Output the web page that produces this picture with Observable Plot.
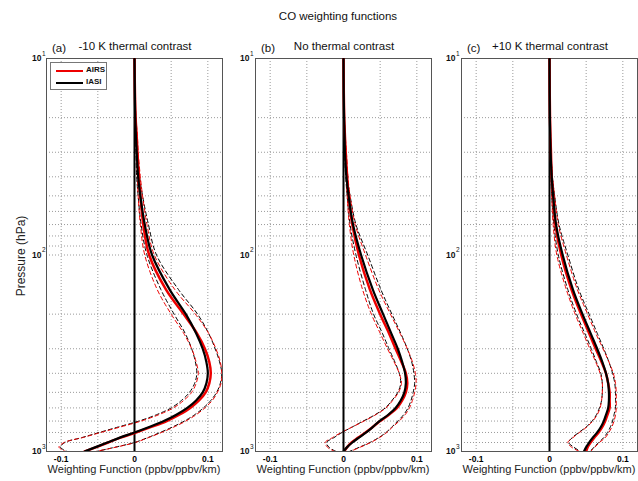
<!DOCTYPE html>
<html>
<head>
<meta charset="utf-8">
<script src="https://cdn.jsdelivr.net/npm/d3@7"></script>
<script src="https://cdn.jsdelivr.net/npm/@observablehq/plot@0.6"></script>
<style>
  body { margin: 0; background: #fff; font-family: "Liberation Sans", Arial, sans-serif; }
  #wrap { position: relative; width: 638px; height: 481px; overflow: hidden; }
  .abs { position: absolute; white-space: nowrap; color: #111; }
  svg { font-family: "Liberation Sans", Arial, sans-serif; }
</style>
</head>
<body>
<div id="wrap"></div>
<script>
// ---------- data ----------
const chartTitle = "CO weighting functions";
const panelLetters = ["(a)", "(b)", "(c)"];
const panelTitles = ["-10 K thermal contrast", "No thermal contrast", "+10 K thermal contrast"];
const xLabel = "Weighting Function (ppbv/ppbv/km)";
const yLabel = "Pressure (hPa)";
const seriesNames = ["AIRS", "IASI"];

const xTickValues = [-0.1, 0, 0.1];
const xTickLabels = ["-0.1", "0", "0.1"];
const xGridValues = [-0.1, -0.05, 0, 0.05, 0.1];
const yTickValues = [10, 100, 1000];
const yTickExponents = ["1", "2", "3"];
const yGridValues = [10,20,30,40,50,60,70,80,90,100,200,300,400,500,600,700,800,900,1000];

const pressure = [10,15,20,25,30,40,50,70,100,150,200,250,300,350,400,450,500,550,600,650,700,750,800,850,900,950,1000];

// panel (a): -10 K
const aIasi   = [0,0.0005,0.001,0.002,0.003,0.005,0.008,0.014,0.024,0.048,0.070,0.084,0.093,0.098,0.100,0.098,0.093,0.084,0.072,0.057,0.040,0.020,0.000,-0.020,-0.037,-0.053,-0.068];
const aAirs   = [0,0.0006,0.0015,0.003,0.004,0.006,0.008,0.012,0.020,0.043,0.067,0.085,0.096,0.102,0.104,0.102,0.097,0.088,0.076,0.061,0.044,0.023,0.002,-0.019,-0.036,-0.052,-0.068];
const aIasiLo = [0,0.0003,0.0007,0.0013,0.002,0.003,0.005,0.009,0.017,0.036,0.054,0.069,0.078,0.083,0.085,0.082,0.075,0.064,0.050,0.030,0.006,-0.022,-0.048,-0.072,-0.095,-0.101,-0.092];
const aIasiHi = [0,0.0007,0.0015,0.003,0.004,0.007,0.011,0.019,0.030,0.060,0.086,0.101,0.110,0.116,0.119,0.117,0.112,0.104,0.094,0.082,0.068,0.052,0.035,0.018,0.000,-0.026,-0.052];
const aAirsLo = [0,0.0004,0.001,0.002,0.003,0.004,0.005,0.008,0.014,0.031,0.050,0.067,0.078,0.084,0.087,0.084,0.078,0.067,0.053,0.033,0.009,-0.019,-0.046,-0.071,-0.096,-0.103,-0.094];
const aAirsHi = [0,0.0008,0.002,0.004,0.005,0.008,0.011,0.017,0.027,0.055,0.083,0.101,0.111,0.117,0.119,0.118,0.113,0.106,0.096,0.084,0.070,0.054,0.037,0.019,0.001,-0.025,-0.053];

// panel (b): no contrast
const bIasi   = [0,0.0003,0.0008,0.0015,0.002,0.004,0.007,0.013,0.024,0.040,0.054,0.065,0.074,0.080,0.084,0.085,0.083,0.078,0.071,0.061,0.049,0.040,0.031,0.021,0.012,0.005,0.000];
const bAirs   = [0,0.0004,0.001,0.002,0.003,0.005,0.007,0.012,0.021,0.036,0.050,0.062,0.071,0.079,0.085,0.087,0.085,0.080,0.073,0.062,0.050,0.040,0.030,0.020,0.011,0.005,0.001];
const bIasiLo = [0,0.0002,0.0005,0.001,0.0015,0.003,0.005,0.009,0.017,0.030,0.041,0.053,0.062,0.070,0.076,0.078,0.074,0.066,0.057,0.043,0.027,0.012,-0.002,-0.013,-0.023,-0.020,-0.010];
const bIasiHi = [0,0.0004,0.001,0.002,0.003,0.005,0.009,0.017,0.033,0.051,0.066,0.078,0.087,0.093,0.096,0.097,0.095,0.092,0.088,0.082,0.074,0.066,0.058,0.048,0.036,0.022,0.008];
const bAirsLo = [0,0.0003,0.0007,0.0013,0.002,0.004,0.005,0.008,0.014,0.026,0.038,0.050,0.060,0.069,0.076,0.079,0.075,0.067,0.058,0.044,0.028,0.012,-0.003,-0.015,-0.025,-0.022,-0.012];
const bAirsHi = [0,0.0005,0.0012,0.0025,0.004,0.006,0.009,0.016,0.030,0.048,0.064,0.077,0.087,0.094,0.098,0.099,0.097,0.094,0.090,0.084,0.076,0.067,0.059,0.049,0.037,0.023,0.009];

// panel (c): +10 K
const cIasi   = [0,0.0002,0.0005,0.001,0.0015,0.003,0.005,0.009,0.018,0.032,0.045,0.056,0.065,0.072,0.077,0.080,0.081,0.081,0.080,0.077,0.074,0.070,0.065,0.059,0.054,0.050,0.047];
const cAirs   = [0,0.0003,0.0007,0.0013,0.002,0.003,0.005,0.008,0.016,0.030,0.043,0.054,0.063,0.071,0.077,0.080,0.082,0.082,0.082,0.079,0.076,0.072,0.067,0.061,0.056,0.052,0.050];
const cIasiLo = [0,0.0001,0.0003,0.0006,0.001,0.002,0.003,0.006,0.012,0.025,0.037,0.048,0.057,0.064,0.070,0.072,0.072,0.071,0.068,0.064,0.058,0.050,0.040,0.031,0.026,0.033,0.042];
const cIasiHi = [0,0.0003,0.0007,0.0014,0.002,0.004,0.007,0.013,0.025,0.040,0.054,0.065,0.074,0.081,0.086,0.089,0.090,0.090,0.090,0.088,0.086,0.083,0.079,0.074,0.067,0.061,0.055];
const cAirsLo = [0,0.0001,0.0003,0.0006,0.001,0.002,0.003,0.005,0.010,0.023,0.035,0.046,0.055,0.063,0.069,0.072,0.072,0.071,0.069,0.065,0.059,0.051,0.041,0.032,0.025,0.030,0.041];
const cAirsHi = [0,0.0004,0.0009,0.0016,0.002,0.004,0.007,0.012,0.023,0.038,0.052,0.063,0.073,0.081,0.087,0.090,0.091,0.091,0.091,0.090,0.088,0.085,0.081,0.076,0.068,0.062,0.056];

// ---------- layout ----------
const RED = "#ee0000";
const panels = [
  {left: 0,   marginLeft: 46, width: 223, airs: aAirs, iasi: aIasi, airsLo: aAirsLo, airsHi: aAirsHi, iasiLo: aIasiLo, iasiHi: aIasiHi, tickDx: -5},
  {left: 222, marginLeft: 33, width: 210, airs: bAirs, iasi: bIasi, airsLo: bAirsLo, airsHi: bAirsHi, iasiLo: bIasiLo, iasiHi: bIasiHi, tickDx: -6},
  {left: 431, marginLeft: 30, width: 207, airs: cAirs, iasi: cIasi, airsLo: cAirsLo, airsHi: cAirsHi, iasiLo: cIasiLo, iasiHi: cIasiHi, tickDx: -6}
];

const wrap = document.getElementById("wrap");
function addText(txt, style) {
  const d = document.createElement("div");
  d.className = "abs";
  d.textContent = txt;
  Object.assign(d.style, style);
  wrap.appendChild(d);
  return d;
}

const toRows = (vals) => pressure.map((p, i) => ({p, v: vals[i]}));

panels.forEach((P, k) => {
  const lineOpts = {x: "v", y: "p", curve: "catmull-rom"};
  const plot = Plot.plot({
    width: P.width,
    height: 481,
    marginLeft: P.marginLeft,
    marginRight: 1,
    marginTop: 58,
    marginBottom: 30,
    style: {background: "transparent", overflow: "visible"},
    x: {domain: [-0.12, 0.12], label: null},
    y: {type: "log", domain: [10, 1000], reverse: true, label: null},
    marks: [
      Plot.gridX(xGridValues, {stroke: "#9a9a9a", strokeOpacity: 1, strokeDasharray: "1,2"}),
      Plot.gridY(yGridValues, {stroke: "#9a9a9a", strokeOpacity: 1, strokeDasharray: "1,2"}),
      Plot.frame({stroke: "#555", strokeWidth: 1}),
      Plot.axisX(xTickValues, {tickSize: 0, tickPadding: 4, fontSize: 8.5, fontWeight: "bold", tickFormat: (d, i) => xTickLabels[i], label: null}),
      Plot.axisY({ticks: [], label: null}),
      Plot.text(yTickValues, {y: d => d, frameAnchor: "left", text: () => "10", textAnchor: "end", dx: P.tickDx, fontSize: 8.5, fontWeight: "bold", fill: "#111"}),
      Plot.text(yTickValues, {y: d => d, frameAnchor: "left", text: (d, i) => yTickExponents[i], textAnchor: "start", dx: P.tickDx + 0.5, dy: -5, fontSize: 6.5, fill: "#111"}),
      // envelopes (mean ± spread)
      Plot.line(toRows(P.iasiLo), {...lineOpts, stroke: "#000", strokeWidth: 1, strokeDasharray: "4,3", clip: true}),
      Plot.line(toRows(P.iasiHi), {...lineOpts, stroke: "#000", strokeWidth: 1, strokeDasharray: "4,3", clip: true}),
      Plot.line(toRows(P.airsLo), {...lineOpts, stroke: RED, strokeWidth: 1, strokeDasharray: "4,3", strokeDashoffset: 3.5, clip: true}),
      Plot.line(toRows(P.airsHi), {...lineOpts, stroke: RED, strokeWidth: 1, strokeDasharray: "4,3", strokeDashoffset: 3.5, clip: true}),
      Plot.ruleX([0], {stroke: "#000", strokeWidth: 2}),
      Plot.line(toRows(P.airs), {...lineOpts, stroke: RED, strokeWidth: 2.5, clip: true}),
      Plot.line(toRows(P.iasi), {...lineOpts, stroke: "#000", strokeWidth: 2.2, clip: true})
    ]
  });
  plot.style.position = "absolute";
  plot.style.left = P.left + "px";
  plot.style.top = "0px";
  wrap.appendChild(plot);

  const frameLeft = P.left + P.marginLeft;
  const frameW = P.width - P.marginLeft - 1;
  addText(panelLetters[k], {left: (frameLeft + 6) + "px", top: "42px", fontSize: "11.5px"});
  addText(panelTitles[k], {left: (frameLeft + frameW / 2 + 1) + "px", top: "40px", fontSize: "11.5px", transform: "translateX(-50%)"});
  addText(xLabel, {left: (frameLeft + frameW / 2) + "px", top: "463px", fontSize: "11px", transform: "translateX(-50%)", color: "#222"});
});

// main title
addText(chartTitle, {left: "338px", top: "10px", fontSize: "11.5px", transform: "translateX(-50%)"});
// y label
addText(yLabel, {left: "21px", top: "256px", fontSize: "12px", transform: "translate(-50%,-50%) rotate(-90deg)", color: "#222"});

// legend
const leg = document.createElement("div");
leg.className = "abs";
Object.assign(leg.style, {left: "50px", top: "62px", width: "55px", height: "26px", border: "1px solid #777", background: "#fff"});
[[seriesNames[0], RED, 5], [seriesNames[1], "#000", 17]].forEach(([name, col, top]) => {
  const bar = document.createElement("div");
  Object.assign(bar.style, {position: "absolute", left: "5px", top: (top + 2) + "px", width: "27px", height: "2px", background: col});
  leg.appendChild(bar);
  const lab = document.createElement("div");
  Object.assign(lab.style, {position: "absolute", left: "35px", top: (top - 3) + "px", fontSize: "8px", fontWeight: "bold", color: "#111"});
  lab.textContent = name;
  leg.appendChild(lab);
});
wrap.appendChild(leg);
</script>
</body>
</html>
